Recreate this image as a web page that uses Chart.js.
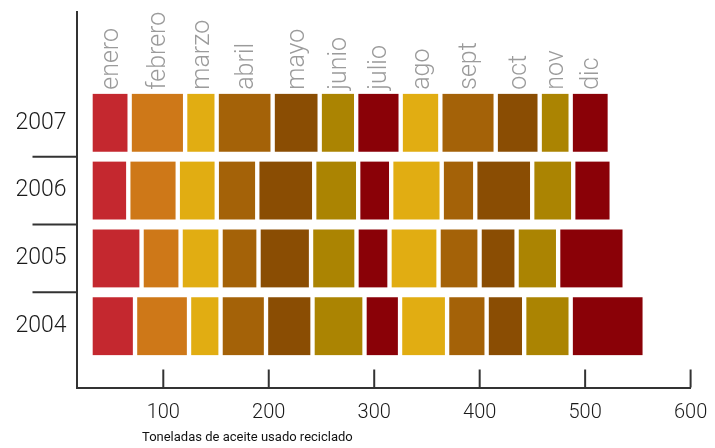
<!DOCTYPE html>
<html lang="es">
<head>
<meta charset="utf-8">
<title>Aceite usado reciclado</title>
<script src="https://cdn.jsdelivr.net/npm/chart.js@4"></script>
<style>
  html, body { margin: 0; padding: 0; background: #fff; }
  #wrap { width: 715px; height: 448px; position: relative; }
</style>
</head>
<body>
<div id="wrap"><canvas id="grafico"></canvas></div>
<script>
// Toneladas de aceite usado reciclado, por mes y por año
const anios = [2007, 2006, 2005, 2004];
const meses = ['enero', 'febrero', 'marzo', 'abril', 'mayo', 'junio', 'julio', 'ago', 'sept', 'oct', 'nov', 'dic'];
const colores = ['#C4282F', '#CE7818', '#E1AD12', '#A46208', '#8A4D03', '#AB8402',
                 '#8A0107', '#E1AD12', '#A46208', '#8A4D03', '#AB8402', '#8A0107'];

const t2007 = [37.1, 52.6, 29.9, 53.1, 44.6, 34.6, 42.2, 37.6, 52.5, 41.7, 29.4, 37.1];
const t2006 = [35.8, 46.9, 37.0, 38.4, 54.0, 41.7, 31.3, 47.9, 31.8, 54.0, 38.9, 36.5];
const t2005 = [48.4, 37.0, 37.9, 36.0, 49.8, 43.1, 31.3, 46.5, 38.9, 35.1, 39.4, 63.1];
const t2004 = [42.2, 51.2, 29.9, 43.1, 44.1, 49.3, 33.7, 44.6, 37.5, 35.6, 44.1, 70.2];

const inicio = 31;   // valor donde arranca cada barra
const ticksX = [100, 200, 300, 400, 500, 600];

const filas = [t2007, t2006, t2005, t2004];

// cada mes es un tramo flotante [desde, hasta] apilado a mano
const datasets = meses.map((mes, m) => ({
  label: mes,
  data: anios.map((anio, i) => {
    const desde = inicio + filas[i].slice(0, m).reduce((a, b) => a + b, 0);
    return { x: [desde, desde + filas[i][m]], y: anio };
  }),
  backgroundColor: colores[m],
  borderColor: '#ffffff',
  borderWidth: { left: 2.5, right: 2.5, top: 0, bottom: 0 },
  borderSkipped: false,
  grouped: false,
  barThickness: 58
}));

function linea(ctx, x1, y1, x2, y2) {
  ctx.beginPath();
  ctx.moveTo(x1, y1);
  ctx.lineTo(x2, y2);
  ctx.stroke();
}

const decoracion = {
  id: 'decoracion',
  afterDraw(chart) {
    const { ctx, chartArea, scales: { x, y } } = chart;
    ctx.save();
    ctx.strokeStyle = '#333333';
    ctx.lineWidth = 2;

    // marcas del eje horizontal, hacia arriba
    ticksX.forEach(v => {
      const px = x.getPixelForValue(v);
      linea(ctx, px, chartArea.bottom, px, chartArea.bottom - 18);
    });

    // separadores entre años
    for (let i = 0; i < anios.length - 1; i++) {
      const py = y.getPixelForValue(anios[i] - 0.5);
      linea(ctx, chartArea.left - 44, py, chartArea.left, py);
    }

    // nombres de los meses sobre la fila de arriba
    ctx.fillStyle = '#9b9b9b';
    ctx.font = '300 25px Roboto, "DejaVu Sans", sans-serif';
    ctx.textAlign = 'left';
    ctx.textBaseline = 'alphabetic';
    meses.forEach((mes, m) => {
      const bar = chart.getDatasetMeta(m).data[0];
      const cx = (bar.x + bar.base) / 2;
      const top = bar.y - bar.height / 2;
      ctx.save();
      ctx.translate(cx + 8, top - 4);
      ctx.rotate(-Math.PI / 2);
      ctx.fillText(mes, 0, 0);
      ctx.restore();
    });

    // título del eje
    ctx.fillStyle = '#111111';
    ctx.font = '13px Roboto, "DejaVu Sans", sans-serif';
    ctx.textBaseline = 'middle';
    ctx.fillText('Toneladas de aceite usado reciclado', 142, 438);
    ctx.restore();
  }
};

new Chart(document.getElementById('grafico'), {
  type: 'bar',
  data: { datasets },
  plugins: [decoracion],
  options: {
    indexAxis: 'y',
    responsive: true,
    maintainAspectRatio: false,
    animation: false,
    layout: { padding: { top: 12, right: 24.4, left: 0, bottom: 0 } },
    plugins: {
      legend: { display: false },
      tooltip: { enabled: false }
    },
    scales: {
      x: {
        type: 'linear',
        min: 17.7,
        max: 600,
        afterFit: s => {
          s.height = 60.5;
          s.paddingLeft = 0;
          s.paddingRight = 0;
        },
        afterBuildTicks: s => { s.ticks = ticksX.map(v => ({ value: v })); },
        grid: { drawOnChartArea: false, drawTicks: false },
        border: { color: '#333333', width: 2 },
        ticks: {
          padding: 13,
          color: '#1a1a1a',
          font: { family: 'Roboto', size: 20, weight: 300 }
        }
      },
      y: {
        type: 'linear',
        offset: false,
        min: 2003.096,
        max: 2008.634,
        afterFit: s => {
          s.width = 76.5;
          s.paddingTop = 0;
          s.paddingBottom = 0;
        },
        afterBuildTicks: s => { s.ticks = anios.map(v => ({ value: v })); },
        grid: { offset: false, drawOnChartArea: false, drawTicks: false },
        border: { color: '#333333', width: 2 },
        ticks: {
          padding: 10,
          color: '#1a1a1a',
          font: { family: 'Roboto', size: 23, weight: 300 },
          callback: v => String(v)
        }
      }
    }
  }
});
</script>
</body>
</html>
